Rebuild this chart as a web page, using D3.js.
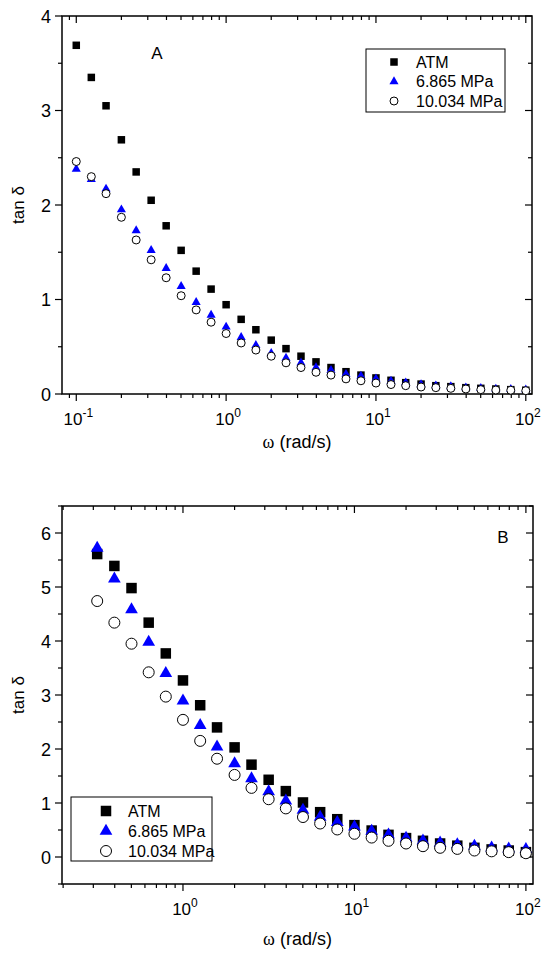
<!DOCTYPE html>
<html>
<head>
<meta charset="utf-8">
<script src="https://cdn.jsdelivr.net/npm/d3@7"></script>
<style>
  body { margin: 0; background: #fff; }
  svg text { font-family: "Liberation Sans", Arial, sans-serif; fill: #000; }
</style>
</head>
<body>
<svg id="chart" width="550" height="961"></svg>
<script>
// angular frequency (rad/s)
const freqA = [0.1, 0.126, 0.158, 0.2, 0.251, 0.316, 0.398, 0.501, 0.631, 0.794,
  1, 1.26, 1.58, 2, 2.51, 3.16, 3.98, 5.01, 6.31, 7.94,
  10, 12.6, 15.8, 20, 25.1, 31.6, 39.8, 50.1, 63.1, 79.4, 100];
const freqB = [0.316, 0.398, 0.501, 0.631, 0.794,
  1, 1.26, 1.58, 2, 2.51, 3.16, 3.98, 5.01, 6.31, 7.94,
  10, 12.6, 15.8, 20, 25.1, 31.6, 39.8, 50.1, 63.1, 79.4, 100];

const seriesNames = ['ATM', '6.865 MPa', '10.034 MPa'];

// panel A: tan delta
const atmA = [3.69, 3.35, 3.05, 2.69, 2.35, 2.05, 1.78, 1.52, 1.30, 1.11,
  0.945, 0.79, 0.68, 0.57, 0.48, 0.40, 0.34, 0.28, 0.236, 0.20,
  0.17, 0.145, 0.12, 0.105, 0.088, 0.078, 0.067, 0.06, 0.053, 0.046, 0.04];
const mpa6A = [2.38, 2.27, 2.17, 1.95, 1.73, 1.52, 1.33, 1.14, 0.97, 0.835,
  0.71, 0.60, 0.515, 0.43, 0.38, 0.33, 0.28, 0.25, 0.21, 0.19,
  0.16, 0.137, 0.12, 0.10, 0.088, 0.078, 0.067, 0.06, 0.053, 0.049, 0.046];
const mpa10A = [2.46, 2.30, 2.12, 1.87, 1.63, 1.42, 1.23, 1.04, 0.89, 0.76,
  0.64, 0.54, 0.465, 0.40, 0.33, 0.28, 0.23, 0.20, 0.16, 0.14,
  0.116, 0.10, 0.088, 0.074, 0.067, 0.06, 0.053, 0.046, 0.042, 0.04, 0.035];

// panel B: tan delta
const atmB = [5.61, 5.39, 4.98, 4.34, 3.77, 3.27, 2.81, 2.40, 2.03, 1.71,
  1.43, 1.22, 1.01, 0.83, 0.70, 0.59, 0.49, 0.41, 0.35, 0.30,
  0.25, 0.21, 0.17, 0.14, 0.12, 0.09];
const mpa6B = [5.72, 5.15, 4.58, 3.98, 3.40, 2.89, 2.44, 2.04, 1.73, 1.45,
  1.21, 1.04, 0.87, 0.74, 0.64, 0.56, 0.48, 0.41, 0.35, 0.30,
  0.26, 0.23, 0.20, 0.17, 0.15, 0.14];
const mpa10B = [4.74, 4.34, 3.95, 3.42, 2.97, 2.54, 2.15, 1.82, 1.52, 1.28,
  1.07, 0.90, 0.74, 0.62, 0.51, 0.43, 0.36, 0.30, 0.25, 0.20,
  0.17, 0.15, 0.12, 0.105, 0.09, 0.07];

const yTicksA = [0, 1, 2, 3, 4];
const yTicksB = [0, 1, 2, 3, 4, 5, 6];
const xDecadesA = [-1, 0, 1, 2];
const xDecadesB = [0, 1, 2];

const svg = d3.select('#chart');

function drawPanel(opt) {
  const g = svg.append('g').attr('transform', `translate(${opt.left},${opt.top})`);
  const w = opt.width, h = opt.height;
  const x = d3.scaleLog().domain(opt.xDomain).range([0, w]);
  const y = d3.scaleLinear().domain(opt.yDomain).range([h, 0]);

  // minor + major x ticks
  const lo = Math.floor(Math.log10(opt.xDomain[0])), hi = Math.ceil(Math.log10(opt.xDomain[1]));
  const xTicks = [];
  for (let e = lo; e <= hi; e++) {
    for (let m = 1; m <= 9; m++) {
      const v = m * Math.pow(10, e);
      if (v >= opt.xDomain[0] && v <= opt.xDomain[1]) xTicks.push({ v, major: m === 1 });
    }
  }
  const yMinor = [];
  for (let v = opt.yDomain[0]; v <= opt.yDomain[1] + 1e-9; v += 0.5) {
    yMinor.push({ v, major: Math.abs(v - Math.round(v)) < 1e-9 });
  }

  const tk = g.append('g').attr('stroke', '#000').attr('stroke-width', 1.2);
  xTicks.forEach(t => {
    const len = t.major ? 7 : 4;
    const px = x(t.v);
    tk.append('line').attr('x1', px).attr('x2', px).attr('y1', h).attr('y2', h + len);
    tk.append('line').attr('x1', px).attr('x2', px).attr('y1', 0).attr('y2', len);
  });
  yMinor.forEach(t => {
    const len = t.major ? 7 : 4;
    const py = y(t.v);
    tk.append('line').attr('x1', 0).attr('x2', -len).attr('y1', py).attr('y2', py);
    tk.append('line').attr('x1', w).attr('x2', w - len).attr('y1', py).attr('y2', py);
  });

  // frame
  g.append('rect').attr('width', w).attr('height', h)
    .attr('fill', 'none').attr('stroke', '#000').attr('stroke-width', 1.5);

  // y tick labels
  opt.yTicks.forEach(v => {
    g.append('text').attr('x', -11).attr('y', y(v) + 6.5)
      .attr('text-anchor', 'end').attr('font-size', 18).text(v);
  });
  // x tick labels with superscript exponent
  opt.xDecades.forEach(e => {
    const t = g.append('text').attr('x', x(Math.pow(10, e)) + 2).attr('y', h + 31)
      .attr('text-anchor', 'middle').attr('font-size', 17);
    t.append('tspan').text('10');
    t.append('tspan').attr('dy', -8).attr('font-size', 12).text(e);
  });

  // axis titles
  g.append('text').attr('transform', `translate(${opt.yTitleX},${h / 2}) rotate(-90)`)
    .attr('text-anchor', 'middle').attr('font-size', 17).text('tan δ');
  const xt = g.append('text').attr('x', w / 2).attr('y', h + opt.xTitleDy)
    .attr('text-anchor', 'middle').attr('font-size', 18);
  xt.append('tspan').attr('font-family', '"Liberation Serif", "Times New Roman", serif').text('ω');
  xt.append('tspan').text(' (rad/s)');

  // panel letter
  g.append('text').attr('x', opt.letter[1]).attr('y', opt.letter[2])
    .attr('text-anchor', 'middle').attr('font-size', 17).text(opt.letter[0]);

  // markers
  const s = opt.size;
  const sq = g.append('g');
  opt.freq.forEach((f, i) => {
    sq.append('rect').attr('x', x(f) - s.sq / 2).attr('y', y(opt.atm[i]) - s.sq / 2)
      .attr('width', s.sq).attr('height', s.sq).attr('fill', '#000');
  });
  const tri = d3.symbol().type(d3.symbolTriangle).size(s.tri);
  opt.freq.forEach((f, i) => {
    g.append('path').attr('d', tri)
      .attr('transform', `translate(${x(f)},${y(opt.mpa6[i])})`)
      .attr('fill', '#0000ff');
  });
  opt.freq.forEach((f, i) => {
    g.append('circle').attr('cx', x(f)).attr('cy', y(opt.mpa10[i])).attr('r', s.circ)
      .attr('fill', '#fff').attr('stroke', '#000').attr('stroke-width', 1);
  });

  // legend
  const L = opt.legend;
  const lg = g.append('g').attr('transform', `translate(${L.x},${L.y})`);
  lg.append('rect').attr('width', L.w).attr('height', L.h)
    .attr('fill', '#fff').attr('stroke', '#000').attr('stroke-width', 1);
  seriesNames.forEach((name, i) => {
    const cy = L.row0 + i * L.rowH;
    if (i === 0) {
      lg.append('rect').attr('x', L.mx - s.sq / 2).attr('y', cy - s.sq / 2)
        .attr('width', s.sq).attr('height', s.sq).attr('fill', '#000');
    } else if (i === 1) {
      lg.append('path').attr('d', tri).attr('transform', `translate(${L.mx},${cy})`).attr('fill', '#0000ff');
    } else {
      lg.append('circle').attr('cx', L.mx).attr('cy', cy).attr('r', s.circ)
        .attr('fill', '#fff').attr('stroke', '#000');
    }
    lg.append('text').attr('x', L.tx).attr('y', cy + 5.5).attr('font-size', L.fs).text(name);
  });
}

drawPanel({
  left: 62, top: 16, width: 470, height: 378,
  xDomain: [0.0803, 110], yDomain: [0, 4],
  yTicks: yTicksA, xDecades: xDecadesA,
  yTitleX: -38, xTitleDy: 54,
  letter: ['A', 95, 43],
  freq: freqA, atm: atmA, mpa6: mpa6A, mpa10: mpa10A,
  size: { sq: 7.5, tri: 36, circ: 4 },
  legend: { x: 304, y: 33, w: 139, h: 63, mx: 28, tx: 50, row0: 13, rowH: 19.5, fs: 16 }
});

drawPanel({
  left: 62, top: 506, width: 471, height: 378,
  xDomain: [0.197, 110], yDomain: [-0.5, 6.5],
  yTicks: yTicksB, xDecades: xDecadesB,
  yTitleX: -38, xTitleDy: 61,
  letter: ['B', 441, 37],
  freq: freqB, atm: atmB, mpa6: mpa6B, mpa10: mpa10B,
  size: { sq: 10.5, tri: 70, circ: 5.5 },
  legend: { x: 9, y: 291, w: 141, h: 64, mx: 35, tx: 57, row0: 14, rowH: 20, fs: 16 }
});
</script>
</body>
</html>
